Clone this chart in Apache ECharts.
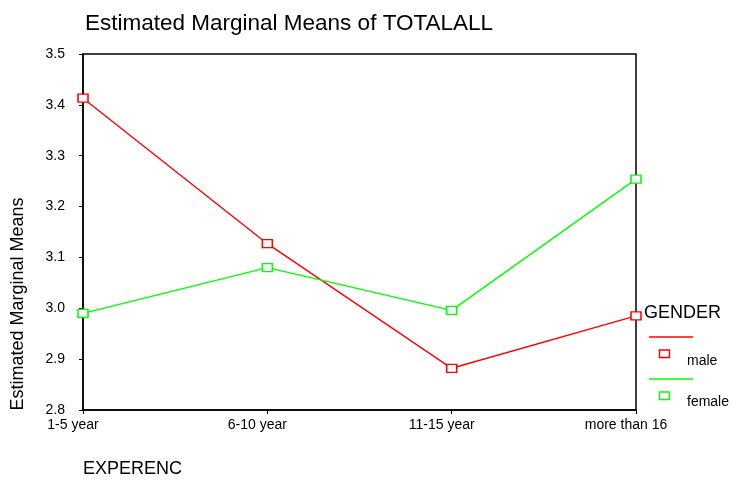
<!DOCTYPE html>
<html><head><meta charset="utf-8">
<script src="https://cdn.jsdelivr.net/npm/echarts@6/dist/echarts.min.js"></script>
<style>html,body{margin:0;padding:0;background:#fff}#c{width:731px;height:481px}</style>
</head><body><div id="c"></div>
<script>
const categories = ['1-5 year', '6-10 year', '11-15 year', 'more than 16'];
const maleValues = [3.413, 3.127, 2.882, 2.985];
const femaleValues = [2.990, 3.080, 2.996, 3.254];
const yTicks = [2.8, 2.9, 3.0, 3.1, 3.2, 3.3, 3.4, 3.5];

const F = 'Liberation Sans, Arial, sans-serif';
const chart = echarts.init(document.getElementById('c'), null, {renderer: 'canvas'});
const sym = (color) => ({
  type: 'line', symbol: 'rect', symbolSize: [10, 8], showSymbol: true,
  lineStyle: {color: color, width: 1.4},
  itemStyle: {color: '#fff', borderColor: color, borderWidth: 1.4},
  animation: false
});
chart.setOption({
  animation: false,
  title: {text: 'Estimated Marginal Means of TOTALALL', left: 80, top: 7,
    textStyle: {fontFamily: F, fontSize: 22.5, fontWeight: 'normal', color: '#000'}},
  grid: {left: 83, right: 95, top: 54, bottom: 71, show: true, borderColor: '#000', borderWidth: 1.5, backgroundColor: 'transparent'},
  xAxis: {type: 'category', data: categories, boundaryGap: false,
    name: 'EXPERENC', nameLocation: 'start', nameGap: 0,
    nameTextStyle: {fontFamily: F, fontSize: 18, color: '#000', align: 'left', verticalAlign: 'top', padding: [50, 0, 0, 0]},
    axisLine: {lineStyle: {color: '#000', width: 1.5}},
    axisTick: {show: true, alignWithLabel: true, length: 4, lineStyle: {color: '#000'}},
    axisLabel: {fontFamily: F, fontSize: 14, color: '#000', margin: 8, interval: 0, padding: [0, 20, 0, 0]},
    splitLine: {show: false}},
  yAxis: {type: 'value', min: 2.8, max: 3.5, interval: 0.1,
    name: 'Estimated Marginal Means', nameLocation: 'middle', nameGap: 56, nameRotate: 90,
    nameTextStyle: {fontFamily: F, fontSize: 18, color: '#000', padding: [0, 144, 0, 0]},
    axisLine: {show: true, lineStyle: {color: '#000', width: 1.5}},
    axisTick: {show: true, length: 4, lineStyle: {color: '#000'}},
    axisLabel: {fontFamily: F, fontSize: 14, color: '#000', margin: 18,
      formatter: v => yTicks.find(t => Math.abs(t - v) < 1e-6).toFixed(1)},
    splitLine: {show: false}},
  series: [
    Object.assign(sym('#ff0000'), {name: 'male', data: maleValues}),
    Object.assign(sym('#00ff00'), {name: 'female', data: femaleValues})
  ],
  graphic: [
    {type: 'text', left: 644, top: 304, style: {text: 'GENDER', font: '18px ' + F, fill: '#000'}},
    {type: 'line', shape: {x1: 649, y1: 337, x2: 693, y2: 337}, style: {stroke: '#ff0000', lineWidth: 1.4}},
    {type: 'rect', shape: {x: 659.5, y: 350, width: 10, height: 7.5}, style: {stroke: '#ff0000', fill: '#fff', lineWidth: 1.4}},
    {type: 'text', left: 687, top: 354, style: {text: 'male', font: '14px ' + F, fill: '#000'}},
    {type: 'line', shape: {x1: 649, y1: 379, x2: 693, y2: 379}, style: {stroke: '#00ff00', lineWidth: 1.4}},
    {type: 'rect', shape: {x: 659.5, y: 392, width: 10, height: 7.5}, style: {stroke: '#00ff00', fill: '#fff', lineWidth: 1.4}},
    {type: 'text', left: 687, top: 395, style: {text: 'female', font: '14px ' + F, fill: '#000'}}
  ]
});
</script></body></html>
